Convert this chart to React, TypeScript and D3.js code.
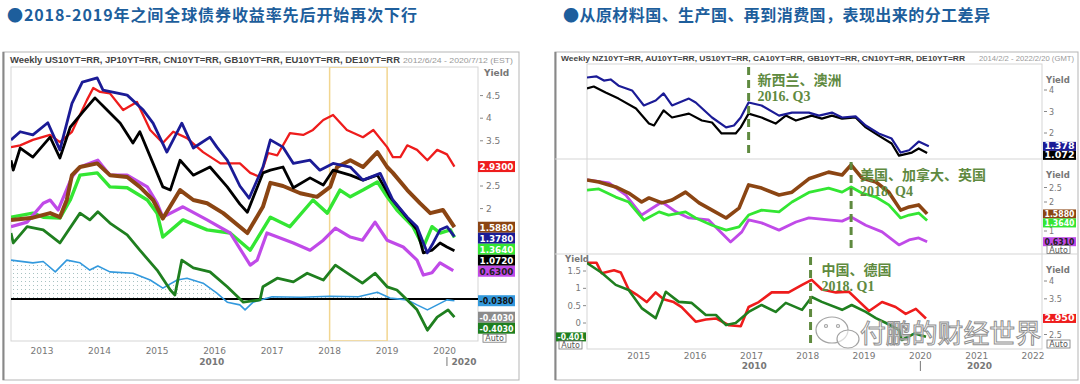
import React from "react";
import * as d3 from "d3";

type Pt = [number, number];

// ---------- left chart: 2012/6/24 - 2020/7/12, values on the right-hand yield scale
const leftYears = [2013, 2014, 2015, 2016, 2017, 2018, 2019, 2020];
const leftTicks = [-0.5, 0, 0.5, 1, 1.5, 2, 2.5, 3, 3.5, 4, 4.5];
const leftHighlight = [2018, 2019];

const leftNavy: Pt[] = [[2012.46,3.52],[2012.62,3.7],[2012.84,3.63],[2013.1,3.9],[2013.31,3.3],[2013.52,4.33],[2013.7,4.8],[2013.96,4.89],[2014.06,4.62],[2014.48,4.51],[2014.76,4.18],[2014.93,3.89],[2015.17,3.25],[2015.43,3.89],[2015.63,3.34],[2015.92,3.58],[2016.04,3.36],[2016.22,3.07],[2016.44,2.5],[2016.6,2.23],[2016.84,2.92],[2016.97,3.52],[2017.19,3.36],[2017.37,3.0],[2017.66,3.07],[2017.83,2.85],[2018.06,3.0],[2018.36,2.92],[2018.58,2.63],[2018.88,2.78],[2019.1,2.19],[2019.35,1.81],[2019.52,1.6],[2019.7,1.02],[2019.8,1.24],[2019.92,1.53],[2020.04,1.6],[2020.17,1.38]];
const leftRed: Pt[] = [[2012.46,3.36],[2012.62,3.4],[2012.84,3.52],[2013.14,3.63],[2013.31,3.47],[2013.52,3.7],[2013.78,4.4],[2013.89,4.67],[2014.01,4.58],[2014.18,4.55],[2014.41,4.18],[2014.65,4.36],[2014.88,3.74],[2015.1,3.45],[2015.28,3.7],[2015.52,3.56],[2015.8,3.25],[2016.1,3.0],[2016.44,3.0],[2016.62,2.79],[2016.79,2.7],[2016.93,3.23],[2017.09,3.18],[2017.31,3.67],[2017.54,3.63],[2017.71,3.74],[2017.89,3.96],[2018.06,4.07],[2018.3,3.74],[2018.58,3.58],[2018.76,3.74],[2019.0,3.36],[2019.1,3.14],[2019.23,3.14],[2019.35,3.4],[2019.52,3.3],[2019.7,3.07],[2019.87,3.3],[2020.04,3.2],[2020.17,2.93]];
const leftBlack: Pt[] = [[2012.46,3.07],[2012.5,2.85],[2012.62,3.34],[2012.84,3.14],[2013.14,3.58],[2013.31,3.12],[2013.49,3.8],[2013.71,4.14],[2013.92,4.45],[2014.13,4.18],[2014.36,3.89],[2014.58,3.45],[2014.7,3.7],[2014.93,3.0],[2015.1,2.48],[2015.23,2.41],[2015.4,3.07],[2015.63,2.74],[2015.92,2.92],[2016.22,2.48],[2016.44,2.1],[2016.57,1.92],[2016.84,2.79],[2016.97,2.85],[2017.19,2.92],[2017.37,2.46],[2017.66,2.68],[2017.89,2.52],[2018.06,2.85],[2018.36,2.74],[2018.58,2.63],[2018.83,2.74],[2019.05,2.26],[2019.28,1.9],[2019.52,1.53],[2019.63,1.02],[2019.78,1.08],[2019.92,1.24],[2020.04,1.15],[2020.17,1.07]];
const leftBrown: Pt[] = [[2012.46,1.75],[2012.84,1.8],[2013.14,1.9],[2013.31,1.81],[2013.43,2.19],[2013.52,2.74],[2013.66,2.92],[2013.96,3.0],[2014.18,2.74],[2014.48,2.7],[2014.7,2.48],[2014.93,2.19],[2015.1,1.78],[2015.4,2.41],[2015.63,2.19],[2015.87,2.12],[2016.15,1.9],[2016.57,1.46],[2016.84,2.04],[2016.97,2.57],[2017.19,2.5],[2017.49,2.34],[2017.78,2.26],[2018.01,2.48],[2018.13,2.92],[2018.36,3.07],[2018.58,2.92],[2018.83,3.25],[2019.0,2.92],[2019.1,2.79],[2019.35,2.41],[2019.57,2.12],[2019.75,1.9],[2019.97,1.97],[2020.17,1.59]];
const leftPurple: Pt[] = [[2012.46,1.6],[2012.74,1.7],[2013.02,2.12],[2013.14,2.19],[2013.28,1.97],[2013.52,2.7],[2013.66,2.92],[2013.97,3.07],[2014.18,2.74],[2014.48,2.74],[2014.83,2.48],[2015.0,2.12],[2015.1,1.81],[2015.45,2.04],[2015.87,1.75],[2016.27,1.46],[2016.62,0.75],[2016.74,0.86],[2016.91,1.46],[2017.14,1.35],[2017.37,1.24],[2017.66,1.08],[2017.89,1.3],[2018.1,1.57],[2018.36,1.37],[2018.57,1.3],[2018.79,1.7],[2019.0,1.3],[2019.28,1.15],[2019.52,0.86],[2019.63,0.53],[2019.78,0.58],[2019.92,0.8],[2020.15,0.63]];
const leftLime: Pt[] = [[2012.46,1.81],[2012.84,1.9],[2013.02,1.81],[2013.31,1.79],[2013.49,2.19],[2013.66,2.74],[2013.96,2.79],[2014.18,2.48],[2014.48,2.46],[2014.83,2.19],[2015.0,1.9],[2015.1,1.37],[2015.45,1.75],[2015.87,1.53],[2016.27,1.46],[2016.62,1.08],[2016.97,1.81],[2017.31,1.6],[2017.71,2.19],[2017.96,1.9],[2018.18,2.41],[2018.36,2.26],[2018.58,2.41],[2018.83,2.59],[2019.0,2.26],[2019.17,1.97],[2019.45,1.6],[2019.63,1.15],[2019.78,1.6],[2019.92,1.46],[2020.1,1.53],[2020.17,1.36]];
const leftDarkGreen: Pt[] = [[2012.46,1.46],[2012.5,1.24],[2012.74,1.6],[2013.02,1.53],[2013.31,1.24],[2013.66,1.9],[2013.83,1.75],[2013.97,1.93],[2014.18,1.68],[2014.48,1.42],[2014.7,1.08],[2015.0,0.64],[2015.23,0.2],[2015.31,0.09],[2015.43,0.86],[2015.63,0.69],[2015.92,0.6],[2016.22,0.27],[2016.5,-0.07],[2016.79,-0.02],[2016.84,0.27],[2017.09,0.46],[2017.37,0.38],[2017.61,0.57],[2017.89,0.42],[2018.1,0.75],[2018.36,0.53],[2018.57,0.35],[2018.79,0.57],[2019.0,0.27],[2019.17,0.2],[2019.35,-0.02],[2019.52,-0.24],[2019.7,-0.69],[2019.87,-0.4],[2020.06,-0.24],[2020.17,-0.4]];
const leftLightBlue: Pt[] = [[2012.46,0.86],[2012.84,0.8],[2013.02,0.83],[2013.23,0.6],[2013.43,0.86],[2013.66,0.8],[2013.83,0.64],[2013.97,0.73],[2014.18,0.6],[2014.58,0.57],[2014.88,0.42],[2015.1,0.24],[2015.35,0.42],[2015.52,0.46],[2015.8,0.35],[2016.04,0.13],[2016.22,-0.07],[2016.44,-0.13],[2016.53,-0.24],[2016.67,-0.07],[2017.0,0.05],[2017.5,0.04],[2018.0,0.06],[2018.5,0.05],[2018.83,0.15],[2019.05,0.02],[2019.35,-0.02],[2019.52,-0.13],[2019.7,-0.24],[2019.87,-0.13],[2020.04,-0.02],[2020.17,-0.04]];

const leftLabelKeys = ["red", "brown", "navy", "lime", "black", "purple", "lightBlue", "gray", "darkGreen"];
const leftLabelValues = [2.93, 1.588, 1.378, 1.364, 1.072, 0.63, -0.038, -0.403, -0.403];
const leftLabelTexts = ["2.9300", "1.5880", "1.3780", "1.3640", "1.0720", "0.6300", "-0.0380", "-0.4030", "-0.4030"];

// ---------- right chart: 2014/2/2 - 2022/2/20, three panels
const rightYears = [2015, 2016, 2017, 2018, 2019, 2020, 2021, 2022];
const p1Ticks = [1, 2, 3, 4];
const p2Ticks = [1, 1.5, 2, 2.5];
const p3LeftTicks = [0, 0.5, 1, 1.5];
const p3RightTicks = [2.5, 3, 3.5, 4];

const rNavy: Pt[] = [[2014.08,4.58],[2014.25,4.63],[2014.38,4.44],[2014.5,4.49],[2014.64,4.2],[2014.88,3.98],[2015.09,3.28],[2015.3,3.51],[2015.44,3.84],[2015.59,3.28],[2015.89,3.6],[2016.01,3.42],[2016.3,2.72],[2016.55,2.26],[2016.69,2.35],[2016.81,2.72],[2016.95,3.42],[2017.18,3.28],[2017.49,2.81],[2017.72,2.95],[2018.02,2.95],[2018.2,2.81],[2018.43,2.95],[2018.61,2.72],[2018.85,2.77],[2019.03,2.35],[2019.26,1.98],[2019.49,1.74],[2019.65,1.09],[2019.8,1.2],[2019.97,1.6],[2020.15,1.38]];
const rBlack: Pt[] = [[2014.08,4.07],[2014.2,4.16],[2014.41,3.88],[2014.64,3.6],[2014.95,3.14],[2015.18,2.44],[2015.27,2.35],[2015.44,3.05],[2015.59,2.72],[2015.89,2.9],[2016.12,2.58],[2016.3,2.49],[2016.47,1.98],[2016.72,1.98],[2016.81,2.26],[2016.95,2.9],[2017.18,2.72],[2017.43,2.44],[2017.61,2.81],[2017.79,2.58],[2018.07,2.81],[2018.25,2.67],[2018.43,2.81],[2018.61,2.67],[2018.85,2.72],[2019.03,2.26],[2019.26,1.88],[2019.49,1.51],[2019.62,0.95],[2019.85,1.09],[2019.97,1.28],[2020.12,1.07]];
const rBrown: Pt[] = [[2014.08,2.76],[2014.29,2.69],[2014.59,2.52],[2014.82,2.31],[2015.05,2.0],[2015.18,2.14],[2015.41,1.97],[2015.59,2.07],[2015.83,2.34],[2016.07,1.97],[2016.3,1.72],[2016.55,1.45],[2016.78,1.79],[2016.95,2.59],[2017.18,2.48],[2017.49,2.24],[2017.72,2.34],[2018.02,2.8],[2018.37,3.03],[2018.61,2.93],[2018.77,3.28],[2018.96,2.83],[2019.21,2.69],[2019.44,2.34],[2019.65,1.72],[2019.8,1.83],[2019.97,1.9],[2020.12,1.59]];
const rLime: Pt[] = [[2014.08,2.41],[2014.29,2.45],[2014.59,2.17],[2014.82,2.0],[2015.09,1.38],[2015.36,1.66],[2015.53,1.55],[2015.83,1.66],[2016.01,1.45],[2016.3,1.2],[2016.55,1.03],[2016.78,1.14],[2016.95,1.55],[2017.18,1.72],[2017.49,1.66],[2017.72,2.0],[2018.02,2.33],[2018.37,2.48],[2018.61,2.34],[2018.77,2.52],[2018.96,2.31],[2019.21,2.17],[2019.44,1.9],[2019.65,1.45],[2019.8,1.55],[2019.97,1.62],[2020.12,1.36]];
const rPurple: Pt[] = [[2014.08,2.76],[2014.47,2.66],[2014.77,2.24],[2015.05,1.55],[2015.41,2.0],[2015.66,1.66],[2015.89,1.45],[2016.24,1.38],[2016.63,0.62],[2016.83,0.97],[2016.95,1.38],[2017.18,1.28],[2017.49,1.03],[2017.79,1.31],[2018.02,1.45],[2018.37,1.38],[2018.61,1.34],[2018.77,1.48],[2019.03,1.2],[2019.32,0.97],[2019.62,0.52],[2019.8,0.69],[2019.97,0.76],[2020.12,0.63]];
const rRed: Pt[] = [[2014.08,4.51],[2014.25,4.51],[2014.34,4.22],[2014.56,4.3],[2014.68,4.24],[2014.82,3.76],[2014.96,3.62],[2015.14,3.41],[2015.3,3.68],[2015.44,3.49],[2015.62,3.41],[2015.76,3.27],[2016.01,2.86],[2016.19,2.92],[2016.37,2.95],[2016.6,2.76],[2016.81,2.73],[2016.95,3.27],[2017.13,3.41],[2017.36,3.68],[2017.66,3.68],[2017.9,3.89],[2018.07,4.03],[2018.25,3.76],[2018.5,3.68],[2018.73,3.7],[2018.91,3.43],[2019.09,3.16],[2019.32,3.41],[2019.56,3.27],[2019.74,3.08],[2019.92,3.22],[2020.1,2.95]];
const rGreen: Pt[] = [[2014.08,1.73],[2014.34,1.45],[2014.59,1.1],[2014.82,0.95],[2015.05,0.43],[2015.3,0.14],[2015.48,0.9],[2015.71,0.61],[2015.94,0.58],[2016.19,0.23],[2016.37,0.23],[2016.55,-0.06],[2016.72,0.0],[2016.95,0.32],[2017.18,0.52],[2017.43,0.32],[2017.61,0.58],[2017.9,0.38],[2018.07,0.75],[2018.25,0.61],[2018.61,0.38],[2018.78,0.52],[2019.03,0.32],[2019.21,0.14],[2019.39,0.0],[2019.62,-0.2],[2019.67,-0.49],[2019.9,-0.3],[2020.1,-0.4]];

const notes = [
  { date: 2016.95, panel: 0, lines: ["新西兰、澳洲", "2016. Q3"] },
  { date: 2018.77, panel: 1, lines: ["美国、加拿大、英国", "2018. Q4"] },
  { date: 2018.05, panel: 2, lines: ["中国、德国", "2018. Q1"] },
];

const C: Record<string, string> = {
  navy: "#1b1b96",
  red: "#ee1c1c",
  black: "#000000",
  brown: "#8b4513",
  lime: "#33e633",
  purple: "#c04ae8",
  darkGreen: "#1f7f1f",
  lightBlue: "#3399dd",
  gray: "#8c8c8c",
};
const labelText: Record<string, string> = {
  lightBlue: "#111",
  purple: "#222",
};

const axisFont = "'DejaVu Sans', Verdana, sans-serif";
const narrowFont = "'Liberation Sans', Arial, sans-serif";
const titleBlue = "#1d5e9c";
const noteGreen = "#5f8a3f";

function stack(ys: number[], h: number) {
  const order = ys.map((y, i) => i).sort((a, b) => ys[a] - ys[b]);
  const out = ys.slice();
  let prev = -Infinity;
  for (const i of order) {
    out[i] = Math.max(ys[i], prev + h);
    prev = out[i];
  }
  return out;
}

// tick labels hidden behind a value box are not drawn
const free = (yv: number, boxes: number[], gap = 7) => boxes.every(b => Math.abs(b - yv) >= gap);

function ValueBox({ x, y, w, h, bg, fg, text }: any) {
  return (
    <g>
      <rect x={x} y={y - h / 2} width={w} height={h} fill={bg} />
      <text x={x + 1.5} y={y + 0.5} fontSize={h < 10 ? 8 : 8.5} fontWeight="bold" fontFamily={axisFont}
        fill={fg} dominantBaseline="central" textLength={w - 3} lengthAdjust="spacingAndGlyphs">{text}</text>
    </g>
  );
}

function AutoBox({ x, y }: { x: number; y: number }) {
  return (
    <g>
      <rect x={x} y={y - 4} width={23} height={8} fill="#fff" stroke="#777" strokeWidth={0.8} />
      <text x={x + 11.5} y={y + 0.5} fontSize={8} fontFamily={axisFont} fill="#555"
        textAnchor="middle" dominantBaseline="central">Auto</text>
    </g>
  );
}

function LeftChart() {
  const x = d3.scaleLinear().domain([2012.46, 2020.58]).range([11, 478]);
  const y = d3.scaleLinear().domain([0, 4.5]).range([299, 95.6]);
  const line = d3.line<Pt>().x(d => x(d[0])).y(d => y(d[1]));
  const area = d3.area<Pt>().x(d => x(d[0])).y0(y(0)).y1(d => y(Math.max(0, d[1])));
  const series = [
    { data: leftLightBlue, color: C.lightBlue, w: 1.6 },
    { data: leftDarkGreen, color: C.darkGreen, w: 2.8 },
    { data: leftLime, color: C.lime, w: 3.4 },
    { data: leftPurple, color: C.purple, w: 3.2 },
    { data: leftBrown, color: C.brown, w: 4 },
    { data: leftRed, color: C.red, w: 2.3 },
    { data: leftBlack, color: C.black, w: 2.8 },
    { data: leftNavy, color: C.navy, w: 2.8 },
  ];
  const boxY = stack(leftLabelValues.map(v => y(v)), 11);
  const [top, bottom] = [67, 341];
  return (
    <g>
      <rect x={3} y={52} width={516} height={328} fill="#fff" stroke="#b5b5b5" />
      <line x1={3.5} y1={52} x2={3.5} y2={380} stroke="#888" strokeWidth={2} />
      <text x={10} y={60} fontSize={9} fontWeight="bold" fontFamily={narrowFont} fill="#444"
        dominantBaseline="central" textLength={390} lengthAdjust="spacingAndGlyphs">
        Weekly US10YT=RR, JP10YT=RR, CN10YT=RR, GB10YT=RR, EU10YT=RR, DE10YT=RR
      </text>
      <text x={403} y={60} fontSize={8} fontFamily={narrowFont} fill="#999"
        dominantBaseline="central" textLength={110} lengthAdjust="spacingAndGlyphs">
        2012/6/24 - 2020/7/12 (EST)
      </text>
      <rect x={11} y={top} width={467} height={bottom - top} fill="none" stroke="#d5d5d5" />
      <clipPath id="clipL"><rect x={11} y={top} width={467} height={bottom - top} /></clipPath>
      <g clipPath="url(#clipL)">
        <path d={area(leftLightBlue) ?? ""} fill="url(#dots)" />
        <rect x={x(leftHighlight[0])} y={top} width={x(leftHighlight[1]) - x(leftHighlight[0])}
          height={bottom - top} fill="none" stroke="#f2d690" strokeWidth={1.5} />
        <line x1={11} x2={478} y1={y(0)} y2={y(0)} stroke="#000" strokeWidth={2} />
        {series.map((s, i) => (
          <path key={i} d={line(s.data) ?? ""} fill="none" stroke={s.color} strokeWidth={s.w}
            strokeLinejoin="round" />
        ))}
      </g>
      <text x={484} y={73} fontSize={9} fontWeight="bold" fontFamily={axisFont} fill="#777"
        dominantBaseline="central">Yield</text>
      {leftTicks.filter(t => free(y(t), boxY)).map(t => (
        <g key={t}>
          <line x1={480} x2={483} y1={y(t)} y2={y(t)} stroke="#888" />
          <text x={486} y={y(t)} fontSize={9} fontFamily={axisFont} fill="#777"
            dominantBaseline="central">{t}</text>
        </g>
      ))}
      {leftLabelKeys.map((k, i) => (
        <ValueBox key={i} x={478} y={boxY[i]} w={37} h={11} bg={C[k]} fg={labelText[k] ?? "#fff"}
          text={leftLabelTexts[i]} />
      ))}
      <AutoBox x={483} y={Math.max(...boxY) + 10} />
      {leftYears.map(yr => (
        <text key={yr} x={x(yr)} y={351} fontSize={9} fontFamily={axisFont} fill="#777"
          textAnchor="middle" dominantBaseline="central">{yr}</text>
      ))}
      <text x={x(2015.95)} y={362} fontSize={9} fontWeight="bold" fontFamily={axisFont} fill="#777"
        textAnchor="middle" dominantBaseline="central">2010</text>
      <line x1={x(2020.04)} x2={x(2020.04)} y1={357} y2={366} stroke="#777" />
      <text x={x(2020.12)} y={362} fontSize={9} fontWeight="bold" fontFamily={axisFont} fill="#777"
        dominantBaseline="central">2020</text>
    </g>
  );
}

function RightChart() {
  const x = d3.scaleLinear().domain([2014.08, 2022.16]).range([587, 1042]);
  const panels = [
    { top: 64, bottom: 159, y: d3.scaleLinear().domain([2, 4]).range([133, 90]) },
    { top: 159, bottom: 254, y: d3.scaleLinear().domain([2, 2.5]).range([202, 187.5]) },
    { top: 254, bottom: 349, y: d3.scaleLinear().domain([2.5, 4]).range([334.5, 281]) },
  ];
  const y3L = d3.scaleLinear().domain([0, 1.5]).range([323, 271]);
  const mk = (ys: d3.ScaleLinear<number, number>) => d3.line<Pt>().x(d => x(d[0])).y(d => ys(d[1]));
  const p = panels;
  const lines = [
    { panel: 0, data: rBlack, y: p[0].y, color: C.black, w: 2.2 },
    { panel: 0, data: rNavy, y: p[0].y, color: C.navy, w: 2.2 },
    { panel: 1, data: rPurple, y: p[1].y, color: C.purple, w: 2.8 },
    { panel: 1, data: rLime, y: p[1].y, color: C.lime, w: 2.8 },
    { panel: 1, data: rBrown, y: p[1].y, color: C.brown, w: 3.6 },
    { panel: 2, data: rRed, y: p[2].y, color: C.red, w: 2.6 },
    { panel: 2, data: rGreen, y: y3L, color: C.darkGreen, w: 2.6 },
  ];
  const bh = 9;
  const p1Box = stack([p[0].y(1.378), p[0].y(1.072)], bh);
  const p2Box = stack([p[1].y(1.588), p[1].y(1.364), p[1].y(0.631)], bh);
  const p3Box = [p[2].y(2.95)];
  const tick = (ys: any, ticks: number[], boxes: number[], k: string) =>
    ticks.filter(t => free(ys(t), boxes, 6.5) && ys(t) > 85).map(t => (
      <g key={k + t}>
        <line x1={1044} x2={1047} y1={ys(t)} y2={ys(t)} stroke="#888" />
        <text x={1049} y={ys(t) + 0.5} fontSize={8} fontFamily={axisFont} fill="#777"
          dominantBaseline="central">{t}</text>
      </g>
    ));
  return (
    <g>
      <rect x={555} y={52} width={523} height={328} fill="#fff" stroke="#b5b5b5" />
      <line x1={555.5} y1={52} x2={555.5} y2={380} stroke="#888" strokeWidth={2} />
      <text x={561} y={58} fontSize={8} fontWeight="bold" fontFamily={narrowFont} fill="#444"
        dominantBaseline="central" textLength={404} lengthAdjust="spacingAndGlyphs">
        Weekly NZ10YT=RR, AU10YT=RR, US10YT=RR, CA10YT=RR, GB10YT=RR, CN10YT=RR, DE10YT=RR
      </text>
      <text x={979} y={58} fontSize={7.5} fontFamily={narrowFont} fill="#999"
        dominantBaseline="central" textLength={95} lengthAdjust="spacingAndGlyphs">
        2014/2/2 - 2022/2/20 (GMT)
      </text>
      <rect x={587} y={64} width={455} height={285} fill="none" stroke="#d5d5d5" />
      <line x1={555} x2={1078} y1={159} y2={159} stroke="#d5d5d5" />
      <line x1={555} x2={1078} y1={254} y2={254} stroke="#d5d5d5" />
      {panels.map((pn, i) => (
        <clipPath key={i} id={"clipR" + i}>
          <rect x={587} y={pn.top} width={455} height={pn.bottom - pn.top} />
        </clipPath>
      ))}
      {lines.map((s, i) => (
        <path key={i} clipPath={`url(#clipR${s.panel})`} d={mk(s.y)(s.data) ?? ""} fill="none"
          stroke={s.color} strokeWidth={s.w} strokeLinejoin="round" />
      ))}
      {notes.map((n, i) => (
        <line key={i} x1={x(n.date)} x2={x(n.date)} y1={p[n.panel].top + 3} y2={p[n.panel].bottom - 1}
          stroke={noteGreen} strokeWidth={3} strokeDasharray="8 5" />
      ))}
      {notes.map((n, i) => (
        <g key={i}>
          <text x={x(n.date) + (i === 2 ? 11 : 9)} y={p[n.panel].top + 15} fontSize={14}
            fontFamily="'Noto Sans CJK SC', sans-serif" fill={noteGreen} fontWeight="bold"
            dominantBaseline="central">{n.lines[0]}</text>
          <text x={x(n.date) + (i === 2 ? 11 : 9)} y={p[n.panel].top + 32} fontSize={14}
            fontFamily="'Liberation Serif', serif" fill={noteGreen} fontWeight="bold"
            dominantBaseline="central">{n.lines[1]}</text>
        </g>
      ))}
      {[80, 175, 270].map((yy, i) => (
        <text key={i} x={1046} y={yy} fontSize={8.5} fontWeight="bold" fontFamily={axisFont} fill="#777"
          dominantBaseline="central">Yield</text>
      ))}
      {tick(p[0].y, p1Ticks, p1Box, "a")}
      {tick(p[1].y, p2Ticks, p2Box, "b")}
      {tick(p[2].y, p3RightTicks, p3Box, "c")}
      <text x={577} y={259} fontSize={8.5} fontWeight="bold" fontFamily={axisFont} fill="#777"
        textAnchor="middle" dominantBaseline="central">Yield</text>
      {p3LeftTicks.map(t => (
        <g key={t}>
          <line x1={583} x2={586} y1={y3L(t)} y2={y3L(t)} stroke="#888" />
          <text x={581} y={y3L(t)} fontSize={8.5} fontFamily={axisFont} fill="#777"
            textAnchor="end" dominantBaseline="central">{t}</text>
        </g>
      ))}
      <ValueBox x={1043} y={p1Box[0]} w={33} h={bh} bg={C.navy} fg="#fff" text="1.378" />
      <ValueBox x={1043} y={p1Box[1]} w={33} h={bh} bg={C.black} fg="#fff" text="1.072" />
      <ValueBox x={1043} y={p2Box[0]} w={33} h={bh} bg={C.brown} fg="#fff" text="1.5880" />
      <ValueBox x={1043} y={p2Box[1]} w={33} h={bh} bg={C.lime} fg="#fff" text="1.3640" />
      <ValueBox x={1043} y={p2Box[2]} w={33} h={bh} bg={C.purple} fg="#222" text="0.6310" />
      <AutoBox x={1047} y={249.5} />
      <ValueBox x={1043} y={p3Box[0]} w={33} h={bh} bg={C.red} fg="#fff" text="2.950" />
      <AutoBox x={1047} y={344} />
      <ValueBox x={556} y={y3L(-0.401)} w={30} h={bh} bg={C.darkGreen} fg="#fff" text="-0.401" />
      <AutoBox x={559} y={345} />
      {rightYears.map(yr => (
        <text key={yr} x={x(yr)} y={356} fontSize={9} fontFamily={axisFont} fill="#777"
          textAnchor="middle" dominantBaseline="central">{yr}</text>
      ))}
      <text x={x(2017.05)} y={366} fontSize={9} fontWeight="bold" fontFamily={axisFont} fill="#777"
        textAnchor="middle" dominantBaseline="central">2010</text>
      <line x1={x(2020)} x2={x(2020)} y1={361} y2={371} stroke="#777" />
      <text x={x(2021.05)} y={366} fontSize={9} fontWeight="bold" fontFamily={axisFont} fill="#777"
        textAnchor="middle" dominantBaseline="central">2020</text>
      {/* watermark */}
      <g fill="none" stroke="#9a9a9a" strokeWidth={1.2} opacity={0.9}>
        <ellipse cx={832} cy={330} rx={16} ry={13} fill="rgba(255,255,255,0.6)" />
        <ellipse cx={848} cy={339} rx={11} ry={9} fill="rgba(255,255,255,0.6)" />
        <circle cx={826} cy={326} r={1.5} />
        <circle cx={838} cy={326} r={1.5} />
      </g>
      <text x={860} y={343} fontSize={26} fontFamily="'Noto Sans CJK SC', sans-serif"
        fill="rgba(255,255,255,0.55)" stroke="#8f8f8f" strokeWidth={1} textLength={181}
        lengthAdjust="spacingAndGlyphs">付鹏的财经世界</text>
    </g>
  );
}

export default function App() {
  return (
    <svg width={1080} height={384} style={{ position: "absolute", left: 0, top: 0, background: "#fff" }}>
      <defs>
        <pattern id="dots" width={4} height={4} patternUnits="userSpaceOnUse">
          <rect x={1} y={1} width={1} height={1} fill="#a8c2c2" />
        </pattern>
      </defs>
      <rect width={1080} height={384} fill="#fff" />
      <text x={7} y={14} fontSize={16} fontWeight="bold" fontFamily="'Noto Sans CJK SC', sans-serif"
        fill={titleBlue} dominantBaseline="central" textLength={410} lengthAdjust="spacing">
        ●2018-2019年之间全球债券收益率先后开始再次下行
      </text>
      <text x={563} y={14} fontSize={16} fontWeight="bold" fontFamily="'Noto Sans CJK SC', sans-serif"
        fill={titleBlue} dominantBaseline="central" textLength={427} lengthAdjust="spacing">
        ●从原材料国、生产国、再到消费国，表现出来的分工差异
      </text>
      <LeftChart />
      <RightChart />
    </svg>
  );
}
